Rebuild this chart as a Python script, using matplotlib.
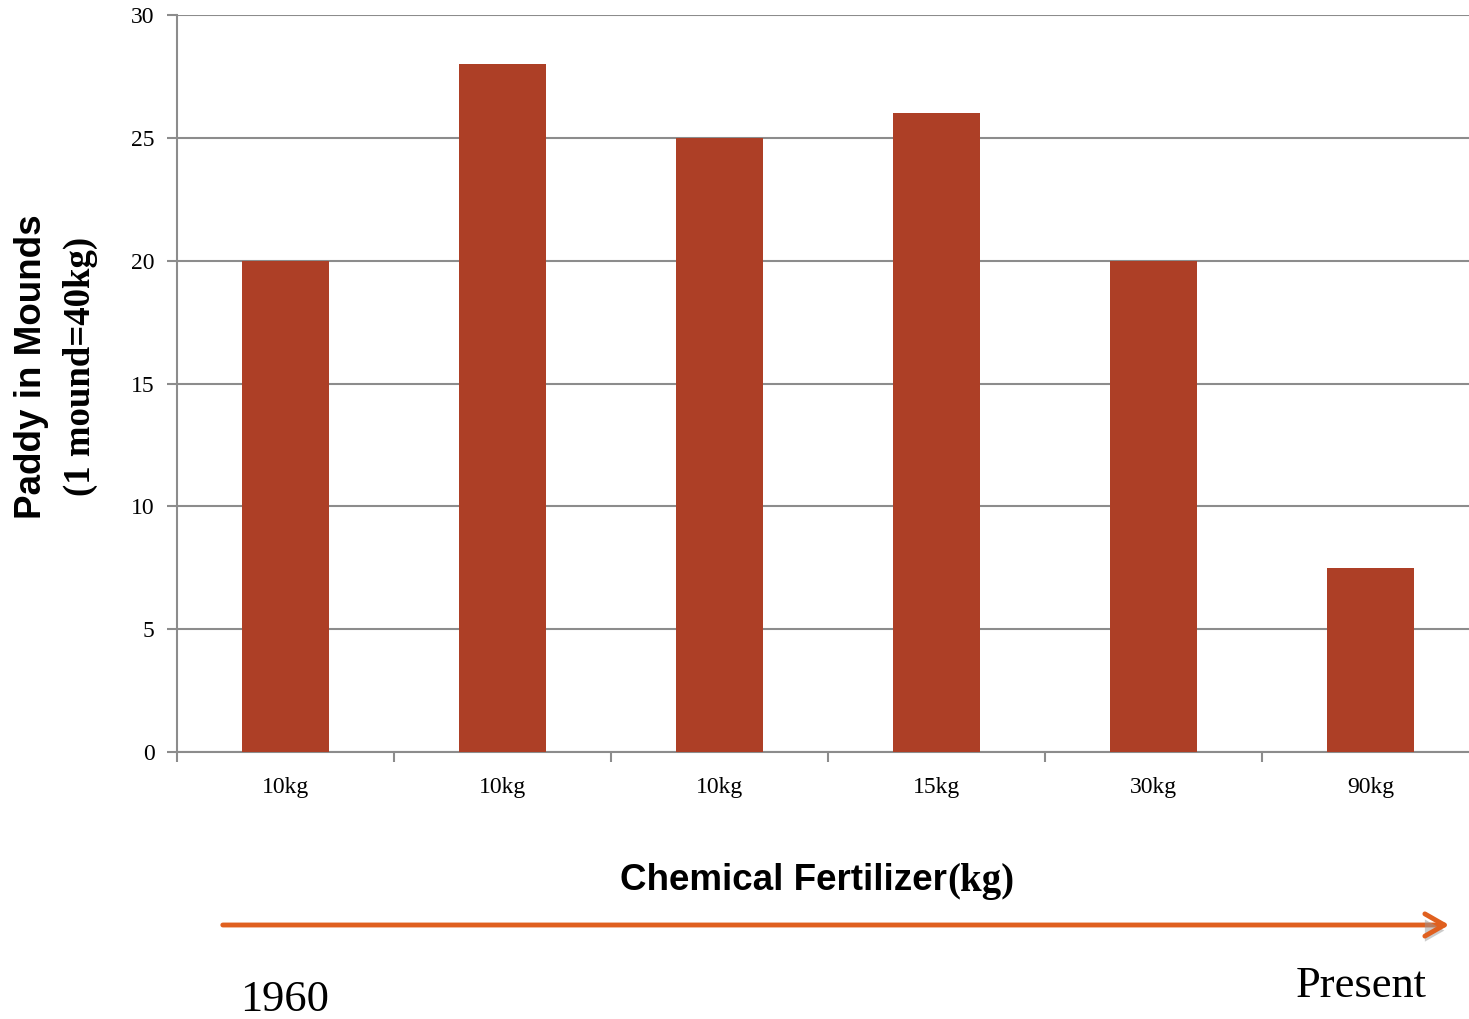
import matplotlib.pyplot as plt
import matplotlib.patheffects as pe
from matplotlib.patches import FancyArrowPatch
import numpy as np

# fertilizer use over time (1960 -> present) and paddy yield in mounds
fertilizer = ["10kg", "10kg", "10kg", "15kg", "30kg", "90kg"]
paddy = [20, 28, 25, 26, 20, 7.5]
yticks = [0, 5, 10, 15, 20, 25, 30]

bar_color = "#AD3F26"
grid_color = "#8C8C8C"
serif = ["Liberation Serif", "DejaVu Serif"]
sans = ["Liberation Sans", "DejaVu Sans"]

W, H = 1469, 1019
fig = plt.figure(figsize=(W / 100, H / 100), dpi=100)
# plot area runs a little past the right edge of the slide, as in the original
ax = fig.add_axes([177 / W, 1 - 752 / H, 1302 / W, (752 - 15) / H])

x = np.arange(len(paddy))
ax.bar(x, paddy, width=0.40, color=bar_color, zorder=3)

ax.set_xlim(-0.5, len(paddy) - 0.5)
ax.set_ylim(0, 30)
ax.set_yticks(yticks)
ax.set_yticklabels([str(v) for v in yticks], family=serif, fontsize=17)
ax.yaxis.grid(True, color=grid_color, linewidth=1.5, zorder=0)
ax.set_axisbelow(True)

# category labels centered, tick marks at boundaries
ax.set_xticks(x)
ax.set_xticklabels(fertilizer, family=serif, fontsize=17)
ax.tick_params(axis="x", length=0, pad=18)
ax.set_xticks(np.arange(len(paddy) + 1) - 0.5, minor=True)
ax.tick_params(axis="x", which="minor", length=7, width=1.5, color=grid_color)
ax.tick_params(axis="y", length=7, width=1.5, color=grid_color, pad=9)

for s in ["top", "right"]:
    ax.spines[s].set_visible(False)
for s in ["left", "bottom"]:
    ax.spines[s].set_color(grid_color)
    ax.spines[s].set_linewidth(1.5)

# y axis title in two lines
fig.text(32 / W, 1 - 367 / H, "Paddy in Mounds", rotation=90, ha="center", va="center",
         family=sans, fontweight="bold", fontsize=26.5)
fig.text(80 / W, 1 - 366 / H, "(1 mound=40kg)", rotation=90, ha="center", va="center",
         family=serif, fontweight="bold", fontsize=26.5)

# x axis title: sans part + serif part
fig.text(947 / W, 1 - 880 / H, "Chemical Fertilizer", ha="right", va="center",
         family=sans, fontweight="bold", fontsize=26.5)
fig.text(947 / W, 1 - 882 / H, "(kg)", ha="left", va="center",
         family=serif, fontweight="bold", fontsize=28)

# timeline arrow
fig.patches.append(FancyArrowPatch(
    (220 / W, 1 - 925 / H), (1452 / W, 1 - 925 / H),
    transform=fig.transFigure, arrowstyle="->,head_length=14,head_width=8",
    color="#E0601F", linewidth=3.5,
    path_effects=[pe.SimplePatchShadow(offset=(0, -4), shadow_rgbFace="#999999", alpha=0.5), pe.Normal()]))

fig.text(285 / W, 1 - 1000 / H, "1960", ha="center", va="center", family=serif, fontsize=32)
fig.text(1361 / W, 1 - 986 / H, "Present", ha="center", va="center", family=serif, fontsize=32)

fig.savefig("out.png", dpi=100)
